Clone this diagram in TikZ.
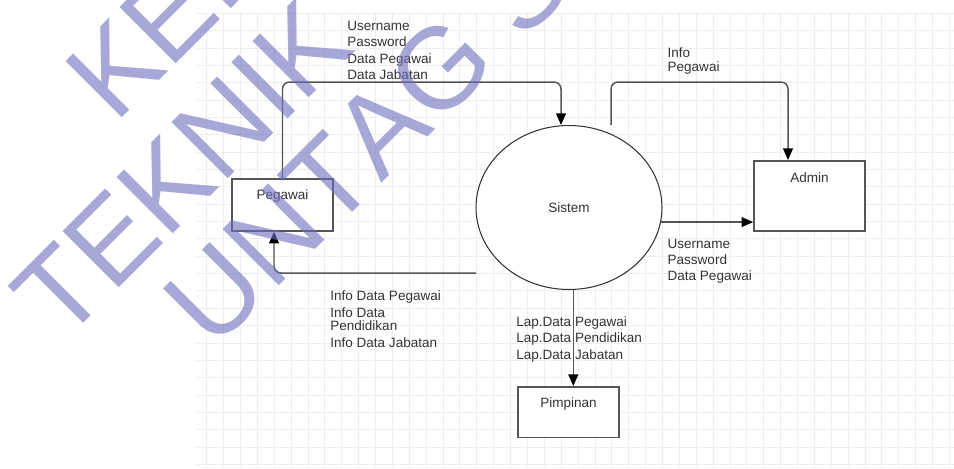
\documentclass[tikz,border=0pt]{standalone}
\usepackage{fontspec}
\setmainfont{Liberation Sans}
\newfontfamily\wmfont[Kerning=Off]{Liberation Sans}
\usetikzlibrary{arrows.meta,shapes.geometric}
\definecolor{inkgray}{RGB}{51,51,51}
\definecolor{linegray}{RGB}{85,85,85}
\definecolor{gridgray}{RGB}{238,238,238}
\definecolor{wmark}{RGB}{110,110,190}

\begin{document}
\begin{tikzpicture}[x=0.02cm, y=-0.02cm,
    font=\fontsize{7.7}{9.27}\selectfont, text=inkgray,
    entity/.style={draw=linegray, line width=1pt, fill=white, inner sep=0pt,
      anchor=north, text height=0.42cm},
    process/.style={ellipse, draw=black!80, line width=0.6pt, fill=white,
      inner sep=0pt, minimum width=3.72cm, minimum height=3.28cm},
    flow/.style={draw=linegray, line width=0.85pt, rounded corners=4pt,
      -{Triangle[length=6.6pt, width=5.6pt, color=black]}},
    note/.style={anchor=base west, align=left, inner sep=0pt},
    watermark/.style={anchor=base west, rotate=45, inner sep=0pt, text=wmark,
      text opacity=0.6, font=\wmfont\fontsize{65.8}{66}\selectfont}]
  \useasboundingbox (0,0) rectangle (954,468);

  % --- background grid ---
  \foreach \k in {0,...,44}
    \draw[gridgray, line width=0.5pt] ({206.7+16.88*\k},13.3) -- ({206.7+16.88*\k},468);
  \foreach \k in {0,...,26}
    \draw[gridgray, line width=0.5pt] (197.3,{13.3+17.35*\k}) -- (954,{13.3+17.35*\k});

  % --- entities and process ---
  \node[entity, minimum width=2.02cm, text depth=0.62cm] (pegawai) at (282.5,178) {Pegawai};
  \node[entity, minimum width=2.22cm, text depth=0.98cm, text height=0.43cm] (admin) at (809.5,160) {Admin};
  \node[entity, minimum width=2.02cm, text depth=0.6cm, text height=0.41cm] (pimpinan) at (568.5,386) {Pimpinan};
  \node[process] (sistem) at (569,207.5) {Sistem};

  % --- bend points ---
  \coordinate (upL) at (561,82);
  \coordinate (upR) at (788,82);
  \coordinate (outR) at (611,125);
  \coordinate (outL) at (476,273);
  \coordinate (lowL) at (274,273);

  % --- data flows ---
  \draw[flow] (pegawai.north) |- (upL) -- (upL |- sistem.north);
  \draw[flow] (outR) |- (upR) -- (upR |- admin.north);
  \draw[flow] (sistem.-9) -- (sistem.-9 -| admin.west);
  \draw[flow] (outL) -- (lowL) -- (lowL |- pegawai.south);
  \draw[flow] (sistem.-87) -- (sistem.-87 |- pimpinan.north);

  % --- flow labels (base = last line) ---
  \node[note] (lblmasuk) at (347,79.3) {Username\\Password\\Data Pegawai\\Data Jabatan};
  \node[note] (lblinfo) at (667.3,71) {Info\\[-1.7pt]Pegawai};
  \node[note] (lbladmin) at (667.3,280.7) {Username\\Password\\Data Pegawai};
  \node[note] (lblkeluar) at (330,347) {Info Data Pegawai\\[0.4pt]Info Data\\[-1.7pt]Pendidikan\\Info Data Jabatan};
  \node[note] (lbllap) at (516,359) {Lap.Data Pegawai\\Lap.Data Pendidikan\\Lap.Data Jabatan};

  % --- watermark ---
  \begin{scope}
    \clip (0,0) rectangle (954,468);
    \node[watermark] (wmA) at (115,125) {KEP};
    \node[watermark] (wmB) at (62,345) {TEKNIK};
    \node[watermark] (wmC) at (213.5,351.5) {UNTAG S};
  \end{scope}
\end{tikzpicture}
\end{document}
